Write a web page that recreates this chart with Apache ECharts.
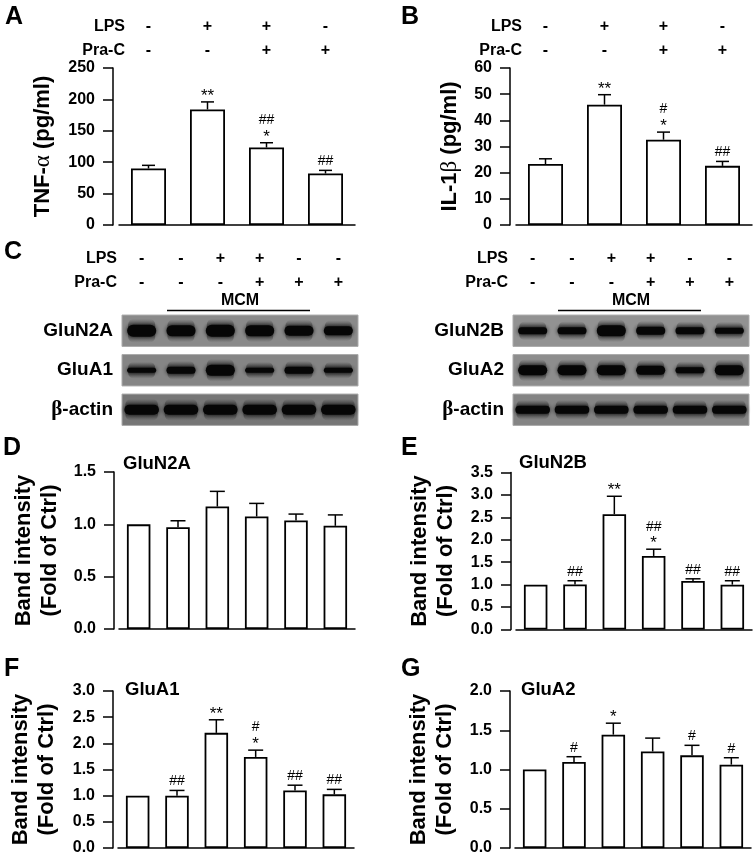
<!DOCTYPE html>
<html>
<head>
<meta charset="utf-8">
<style>html,body{margin:0;padding:0;background:#fff}#main{width:756px;height:857px}</style>
<script src="https://cdn.jsdelivr.net/npm/echarts@6/dist/echarts.min.js"></script>
</head>
<body>
<div id="main"></div>
<script>
// treatment rows
const lps4 = ['-', '+', '+', '-']
const pra4 = ['-', '-', '+', '+']
const lps6 = ['-', '-', '+', '+', '-', '-']
const pra6 = ['-', '-', '-', '+', '+', '+']

// bar heights, error bar tops, significance marks (top row first)
const tnfValues = [90, 184, 123.4, 82]
const tnfTops = [95, 196, 131, 87]
const tnfMarks = ['', '**', '##|*', '##']

const il1Values = [23.3, 46, 32.6, 22.6]
const il1Tops = [25.3, 49.8, 35.5, 24.3]
const il1Marks = ['', '**', '#|*', '##']

const n2aValues = [1, 0.973, 1.17, 1.075, 1.037, 0.986]
const n2aTops = [1, 1.034, 1.315, 1.2, 1.098, 1.09]
const n2aMarks = ['', '', '', '', '', '']

const n2bValues = [1, 1.005, 2.57, 1.64, 1.08, 1]
const n2bTops = [1, 1.087, 2.97, 1.79, 1.13, 1.087]
const n2bMarks = ['', '##', '**', '##|*', '##', '##']

const a1Values = [1, 1, 2.2, 1.74, 1.1, 1.025]
const a1Tops = [1, 1.1, 2.45, 1.87, 1.2, 1.12]
const a1Marks = ['', '##', '**', '#|*', '##', '##']

const a2Values = [1, 1.095, 1.444, 1.23, 1.18, 1.062]
const a2Tops = [1, 1.163, 1.59, 1.4, 1.308, 1.15]
const a2Marks = ['', '#', '*', '', '#', '#']

// western blot band thickness per lane
const blotRowsLeft = ['GluN2A', 'GluA1', '{b|β}-actin']
const n2aBands = [12, 11, 12, 11, 10, 9]
const a1Bands = [5, 7, 11, 5, 7, 5]
const actinBandsLeft = [10, 10, 10, 10, 10, 10]
const blotRowsRight = ['GluN2B', 'GluA2', '{b|β}-actin']
const n2bBands = [7, 7, 11, 8, 7, 6]
const a2Bands = [10, 10, 10, 9, 6, 10]
const actinBandsRight = [8, 8, 8, 8, 8, 8]

const FONT = '"Liberation Sans", Arial, sans-serif'
const grids = [], xAxes = [], yAxes = [], series = [], graphics = []

function addText(text, x, y, size, align, weight) {
  graphics.push({
    type: 'text', x: x, y: y,
    style: { text: text, font: (weight || 'bold') + ' ' + size + 'px ' + FONT, fill: '#000', textAlign: align || 'left', textVerticalAlign: 'middle' }
  })
}

function errorBars(values, tops, marks, capW, g) {
  return {
    type: 'custom', xAxisIndex: g.x, yAxisIndex: g.y, silent: true, z: 3,
    data: values.map((v, i) => [i, v, tops[i]]),
    encode: { x: 0, y: [1, 2] },
    renderItem(params, api) {
      const i = api.value(0)
      const base = api.coord([i, api.value(1)])
      const top = api.coord([i, api.value(2)])
      const kids = []
      const line = { stroke: '#000', lineWidth: 1.5 }
      if (api.value(2) > api.value(1)) {
        kids.push({ type: 'line', shape: { x1: top[0], y1: base[1], x2: top[0], y2: top[1] }, style: line })
        kids.push({ type: 'line', shape: { x1: top[0] - capW / 2, y1: top[1], x2: top[0] + capW / 2, y2: top[1] }, style: line })
      }
      const rows = String(marks[i]).split('|').filter(Boolean).reverse()
      rows.forEach((m, r) => {
        const star = m[0] === '*'
        kids.push({
          type: 'text',
          style: {
            text: m, x: top[0], y: top[1] - 2 - r * 13.5 + (star ? 5 : 0),
            font: (star ? 'normal 17px ' : 'normal 14px ') + FONT, fill: '#000',
            textAlign: 'center', textVerticalAlign: 'bottom'
          }
        })
      })
      return { type: 'group', children: kids }
    }
  }
}

function barPanel(p) {
  const g = { x: xAxes.length, y: yAxes.length }
  const n = p.values.length
  // outerBoundsMode off, otherwise the long axis names push the grid to the right
  grids.push({ left: p.left, width: 236, top: p.top, height: 157, outerBoundsMode: 'none' })
  const gridIndex = grids.length - 1
  const cats = p.values.map((v, i) => 'Lane ' + (i + 1))
  xAxes.push({
    type: 'category', gridIndex: gridIndex, data: cats, position: 'bottom',
    axisLine: { lineStyle: { color: '#000', width: 1.5 } }, axisTick: { show: false }, axisLabel: { show: false }
  })
  if (p.lps) {
    const lps = p.lps, pra = p.pra
    xAxes.push({
      type: 'category', gridIndex: gridIndex, data: cats, position: 'top',
      axisLine: { show: false }, axisTick: { show: false },
      axisLabel: {
        interval: 0, margin: 5, lineHeight: 24, color: '#000', fontFamily: FONT, fontSize: 16, fontWeight: 'bold',
        formatter: (v, i) => lps[i] + '\n' + pra[i]
      }
    })
    addText('LPS', p.left + 6, 27, 16, 'right')
    addText('Pra-C', p.left + 6, 51, 16, 'right')
  }
  yAxes.push({
    type: 'value', gridIndex: gridIndex, min: 0, max: p.max, interval: p.step, offset: p.offset,
    name: p.name, nameLocation: 'middle', nameGap: p.nameGap, nameRotate: 90,
    nameTextStyle: {
      color: '#000', fontFamily: FONT, fontSize: 22, fontWeight: 'bold', lineHeight: 26,
      rich: { g: { fontFamily: '"Liberation Serif", serif', fontSize: 23, fontWeight: 'normal', color: '#000' } }
    },
    splitLine: { show: false },
    axisLine: { show: true, lineStyle: { color: '#000', width: 1.5 } },
    axisTick: { show: true, length: 10, lineStyle: { color: '#000', width: 1.5 } },
    axisLabel: {
      margin: 18, color: '#000', fontFamily: FONT, fontSize: 16, fontWeight: 'bold',
      formatter: v => v.toFixed(p.digits)
    }
  })
  series.push({
    type: 'bar', xAxisIndex: g.x, yAxisIndex: g.y, data: p.values, barWidth: n === 4 ? 35 : 23.5, silent: true,
    itemStyle: { color: '#fff', borderColor: '#000', borderWidth: 1.8 }
  })
  series.push(errorBars(p.values, p.tops, p.marks, n === 4 ? 13 : 15, g))
  if (p.title) addText(p.title, p.titleX, p.titleY, 18.5, 'left')
  addText(p.letter, p.letterX, p.letterY, 25, 'left')
}

function blotPanel(p) {
  const g = { x: xAxes.length, y: yAxes.length }
  grids.push({ left: p.left, width: 236, top: 311, height: 118.5, outerBoundsMode: 'none' })
  const gridIndex = grids.length - 1
  const lanes = p.lps.map((v, i) => 'Lane ' + (i + 1))
  xAxes.push({
    type: 'category', gridIndex: gridIndex, data: lanes, position: 'top',
    axisLine: { show: false }, axisTick: { show: false },
    axisLabel: {
      interval: 0, margin: 16, lineHeight: 24, color: '#000', fontFamily: FONT, fontSize: 16, fontWeight: 'bold',
      formatter: (v, i) => p.lps[i] + '\n' + p.pra[i]
    }
  })
  yAxes.push({
    type: 'category', gridIndex: gridIndex, data: p.rows, inverse: true,
    axisLine: { show: false }, axisTick: { show: false },
    axisLabel: {
      margin: 9, color: '#000', fontFamily: FONT, fontSize: 19, fontWeight: 'bold',
      rich: { b: { fontFamily: '"Liberation Serif", serif', fontSize: 21, color: '#000' } }
    }
  })
  // one strip per row, lanes drawn on top of it
  series.push({
    type: 'custom', xAxisIndex: g.x, yAxisIndex: g.y, silent: true, clip: false,
    data: p.rows.map((r, i) => [0, i]),
    renderItem(params, api) {
      const c = api.coord([0, api.value(1)])
      const cs = params.coordSys
      return {
        type: 'rect',
        shape: { x: cs.x, y: c[1] - 15.7, width: cs.width, height: 31.4 },
        style: { fill: p.bg[api.value(1)], stroke: '#ababab', lineWidth: 1 }
      }
    }
  })
  const bandData = []
  p.bands.forEach((row, r) => row.forEach((t, i) => bandData.push([i, r, t])))
  series.push({
    type: 'custom', xAxisIndex: g.x, yAxisIndex: g.y, silent: true, clip: false, z: 3,
    data: bandData,
    renderItem(params, api) {
      const c = api.coord([api.value(0), api.value(1)])
      const s = api.size([1, 1])
      const t = api.value(2)
      const w = api.value(1) === 2 ? s[0] * 0.88 : s[0] * 0.74
      return {
        type: 'group',
        children: [
          {
            type: 'rect',
            shape: { x: c[0] - w / 2 + 1, y: c[1] - t / 2 - 6, width: w - 2, height: t + 12, r: 6 },
            style: {
              fill: {
                type: 'linear', x: 0, y: 0, x2: 0, y2: 1,
                colorStops: [
                  { offset: 0, color: 'rgba(20,20,20,0)' },
                  { offset: 0.35, color: 'rgba(20,20,20,0.55)' },
                  { offset: 0.65, color: 'rgba(20,20,20,0.55)' },
                  { offset: 1, color: 'rgba(20,20,20,0)' }
                ]
              }
            }
          },
          {
            type: 'rect',
            shape: { x: c[0] - w / 2, y: c[1] - t / 2, width: w, height: t, r: t / 2 },
            style: { fill: '#060606', shadowBlur: 4, shadowColor: 'rgba(10,10,10,0.85)' }
          }
        ]
      }
    }
  })
  addText('LPS', p.left - 5, 259, 16, 'right')
  addText('Pra-C', p.left - 5, 283, 16, 'right')
  addText('MCM', p.left + 118, 301, 16, 'center')
  graphics.push({
    type: 'line', shape: { x1: p.left + 45, y1: 310.5, x2: p.left + 188, y2: 310.5 },
    style: { stroke: '#000', lineWidth: 1.5 }
  })
}

barPanel({ letter: 'A', letterX: 5, letterY: 17, left: 119, top: 68, offset: 6, values: tnfValues, tops: tnfTops, marks: tnfMarks, lps: lps4, pra: pra4, max: 250, step: 50, digits: 0, name: 'TNF-{g|α} (pg/ml)', nameGap: 57 })
barPanel({ letter: 'B', letterX: 401, letterY: 17, left: 516, top: 68, offset: 6, values: il1Values, tops: il1Tops, marks: il1Marks, lps: lps4, pra: pra4, max: 60, step: 10, digits: 0, name: 'IL-1{g|β} (pg/ml)', nameGap: 47 })
blotPanel({ left: 122, lps: lps6, pra: pra6, rows: blotRowsLeft, bands: [n2aBands, a1Bands, actinBandsLeft], bg: ['#8a8a8a', '#858585', '#767676'] })
blotPanel({ left: 513, lps: lps6, pra: pra6, rows: blotRowsRight, bands: [n2bBands, a2Bands, actinBandsRight], bg: ['#929292', '#8d8d8d', '#848484'] })
addText('C', 4, 252, 25, 'left')
barPanel({ letter: 'D', letterX: 3, letterY: 448, title: 'GluN2A', titleX: 123, titleY: 464, left: 119, top: 472, offset: 5, values: n2aValues, tops: n2aTops, marks: n2aMarks, max: 1.5, step: 0.5, digits: 1, name: 'Band intensity\n(Fold of Ctrl)', nameGap: 51 })
barPanel({ letter: 'E', letterX: 401, letterY: 448, title: 'GluN2B', titleX: 519, titleY: 463, left: 516, top: 472.5, offset: 5, values: n2bValues, tops: n2bTops, marks: n2bMarks, max: 3.5, step: 0.5, digits: 1, name: 'Band intensity\n(Fold of Ctrl)', nameGap: 52 })
barPanel({ letter: 'F', letterX: 4, letterY: 669, title: 'GluA1', titleX: 125, titleY: 690, left: 118, top: 691, offset: 5, values: a1Values, tops: a1Tops, marks: a1Marks, max: 3, step: 0.5, digits: 1, name: 'Band intensity\n(Fold of Ctrl)', nameGap: 53 })
barPanel({ letter: 'G', letterX: 401, letterY: 669, title: 'GluA2', titleX: 521, titleY: 690, left: 515, top: 691, offset: 5, values: a2Values, tops: a2Tops, marks: a2Marks, max: 2, step: 0.5, digits: 1, name: 'Band intensity\n(Fold of Ctrl)', nameGap: 52 })

const chart = echarts.init(document.getElementById('main'))
chart.setOption({
  animation: false,
  backgroundColor: '#fff',
  grid: grids,
  xAxis: xAxes,
  yAxis: yAxes,
  series: series,
  graphic: graphics
})
</script>
</body>
</html>
